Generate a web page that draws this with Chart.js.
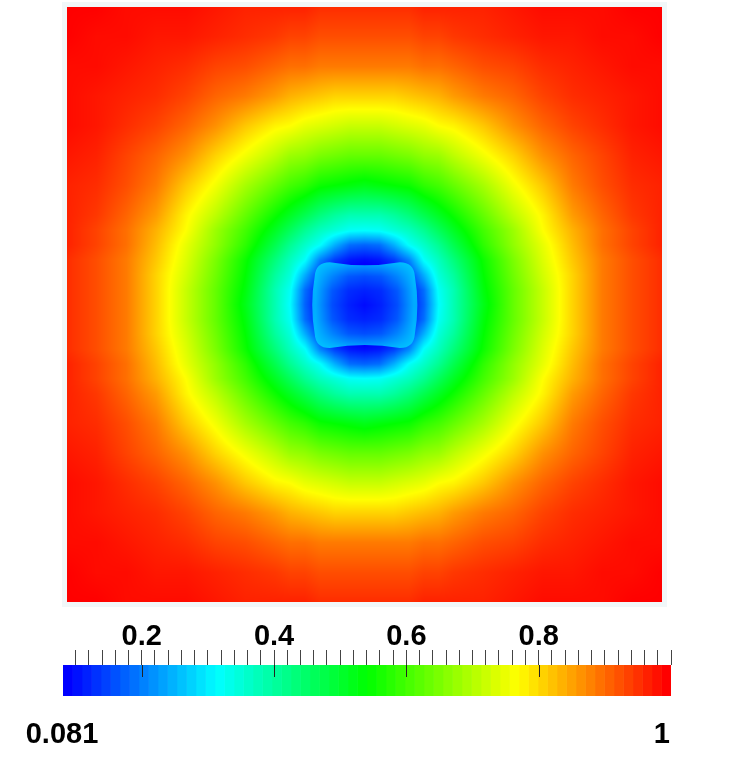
<!DOCTYPE html>
<html>
<head>
<meta charset="utf-8">
<script src="https://cdn.jsdelivr.net/npm/chart.js@4.4.1/dist/chart.umd.min.js"></script>
<style>
  html, body { margin: 0; padding: 0; background: #fff; }
  #wrap { position: relative; width: 740px; height: 778px; }
  #field { position: absolute; left: 0; top: 0; }
  #bar { position: absolute; left: 0; top: 610px; }
</style>
</head>
<body>
<div id="wrap">
  <canvas id="field" width="740" height="610"></canvas>
  <canvas id="bar" width="740" height="168"></canvas>
</div>
<script>
// sampled nodes of the field, domain 0..1 (y counted from the top edge)
const gridX = [0, 0.05, 0.1, 0.15, 0.2, 0.25, 0.3, 0.35, 0.375, 0.4, 0.425, 0.45, 0.475, 0.5,
  0.525, 0.55, 0.575, 0.6, 0.625, 0.65, 0.7, 0.75, 0.8, 0.85, 0.9, 0.95, 1];
const gridY = [0, 0.05, 0.1, 0.15, 0.2, 0.25, 0.3, 0.35, 0.375, 0.4, 0.425, 0.45, 0.475, 0.5,
  0.525, 0.55, 0.575, 0.6, 0.625, 0.65, 0.7, 0.75, 0.8, 0.85, 0.9, 0.95, 1];

// one row per gridY node, one value per gridX node
const field = [
  [1.00,1.00,0.99,0.99,0.99,0.98,0.97,0.97,0.97,0.97,0.96,0.96,0.96,0.96,0.96,0.96,0.96,0.97,0.97,0.97,0.97,0.98,0.99,0.99,0.99,1.00,1.00],
  [1.00,0.99,0.99,0.98,0.98,0.97,0.96,0.95,0.94,0.94,0.93,0.93,0.93,0.93,0.93,0.93,0.93,0.94,0.94,0.95,0.96,0.97,0.98,0.98,0.99,0.99,1.00],
  [0.99,0.99,0.98,0.97,0.96,0.94,0.93,0.91,0.90,0.90,0.89,0.89,0.89,0.89,0.89,0.89,0.89,0.90,0.90,0.91,0.93,0.94,0.96,0.97,0.98,0.99,0.99],
  [0.99,0.98,0.97,0.96,0.94,0.91,0.89,0.86,0.84,0.83,0.82,0.81,0.81,0.81,0.81,0.81,0.82,0.83,0.84,0.86,0.89,0.91,0.94,0.96,0.97,0.98,0.99],
  [0.99,0.98,0.96,0.94,0.91,0.87,0.82,0.78,0.77,0.75,0.74,0.73,0.72,0.72,0.72,0.73,0.74,0.75,0.77,0.78,0.82,0.87,0.91,0.94,0.96,0.98,0.99],
  [0.98,0.97,0.94,0.91,0.87,0.81,0.76,0.71,0.68,0.67,0.65,0.64,0.63,0.63,0.63,0.64,0.65,0.67,0.68,0.71,0.76,0.81,0.87,0.91,0.94,0.97,0.98],
  [0.97,0.96,0.93,0.89,0.82,0.76,0.69,0.63,0.60,0.58,0.55,0.54,0.53,0.52,0.53,0.54,0.55,0.58,0.60,0.63,0.69,0.76,0.82,0.89,0.93,0.96,0.97],
  [0.97,0.95,0.91,0.86,0.78,0.71,0.63,0.55,0.51,0.47,0.43,0.40,0.38,0.38,0.38,0.40,0.43,0.47,0.51,0.55,0.63,0.71,0.78,0.86,0.91,0.95,0.97],
  [0.97,0.94,0.90,0.84,0.77,0.68,0.60,0.51,0.46,0.41,0.37,0.345,0.32,0.315,0.32,0.345,0.37,0.41,0.46,0.51,0.60,0.68,0.77,0.84,0.90,0.94,0.97],
  [0.97,0.94,0.90,0.83,0.75,0.67,0.58,0.47,0.41,0.36,0.315,0.24,0.18,0.17,0.18,0.24,0.315,0.36,0.41,0.47,0.58,0.67,0.75,0.83,0.90,0.94,0.97],
  [0.96,0.93,0.89,0.82,0.74,0.65,0.55,0.43,0.37,0.315,0.20,0.135,0.10,0.09,0.10,0.135,0.20,0.315,0.37,0.43,0.55,0.65,0.74,0.82,0.89,0.93,0.96],
  [0.96,0.93,0.89,0.81,0.73,0.64,0.54,0.40,0.345,0.24,0.135,0.08,0.06,0.05,0.06,0.08,0.135,0.24,0.345,0.40,0.54,0.64,0.73,0.81,0.89,0.93,0.96],
  [0.96,0.93,0.89,0.81,0.72,0.63,0.53,0.38,0.32,0.18,0.10,0.06,0.05,0.05,0.05,0.06,0.10,0.18,0.32,0.38,0.53,0.63,0.72,0.81,0.89,0.93,0.96],
  [0.96,0.93,0.89,0.81,0.72,0.63,0.52,0.38,0.31,0.17,0.09,0.05,0.05,0.05,0.05,0.05,0.09,0.17,0.31,0.38,0.52,0.63,0.72,0.81,0.89,0.93,0.96],
  [0.96,0.93,0.89,0.81,0.72,0.63,0.53,0.38,0.32,0.18,0.10,0.06,0.05,0.05,0.05,0.06,0.10,0.18,0.32,0.38,0.53,0.63,0.72,0.81,0.89,0.93,0.96],
  [0.96,0.93,0.89,0.81,0.73,0.64,0.54,0.40,0.345,0.24,0.135,0.08,0.06,0.05,0.06,0.08,0.135,0.24,0.345,0.40,0.54,0.64,0.73,0.81,0.89,0.93,0.96],
  [0.96,0.93,0.89,0.82,0.74,0.65,0.55,0.43,0.37,0.315,0.20,0.135,0.10,0.09,0.10,0.135,0.20,0.315,0.37,0.43,0.55,0.65,0.74,0.82,0.89,0.93,0.96],
  [0.97,0.94,0.90,0.83,0.75,0.67,0.58,0.47,0.41,0.36,0.315,0.24,0.18,0.17,0.18,0.24,0.315,0.36,0.41,0.47,0.58,0.67,0.75,0.83,0.90,0.94,0.97],
  [0.97,0.94,0.90,0.84,0.77,0.68,0.60,0.51,0.46,0.41,0.37,0.345,0.32,0.315,0.32,0.345,0.37,0.41,0.46,0.51,0.60,0.68,0.77,0.84,0.90,0.94,0.97],
  [0.97,0.95,0.91,0.86,0.78,0.71,0.63,0.55,0.51,0.47,0.43,0.40,0.38,0.38,0.38,0.40,0.43,0.47,0.51,0.55,0.63,0.71,0.78,0.86,0.91,0.95,0.97],
  [0.97,0.96,0.93,0.89,0.82,0.76,0.69,0.63,0.60,0.58,0.55,0.54,0.53,0.52,0.53,0.54,0.55,0.58,0.60,0.63,0.69,0.76,0.82,0.89,0.93,0.96,0.97],
  [0.98,0.97,0.94,0.91,0.87,0.81,0.76,0.71,0.68,0.67,0.65,0.64,0.63,0.63,0.63,0.64,0.65,0.67,0.68,0.71,0.76,0.81,0.87,0.91,0.94,0.97,0.98],
  [0.99,0.98,0.96,0.94,0.91,0.87,0.82,0.78,0.77,0.75,0.74,0.73,0.72,0.72,0.72,0.73,0.74,0.75,0.77,0.78,0.82,0.87,0.91,0.94,0.96,0.98,0.99],
  [0.99,0.98,0.97,0.96,0.94,0.91,0.89,0.86,0.84,0.83,0.82,0.81,0.81,0.81,0.81,0.81,0.82,0.83,0.84,0.86,0.89,0.91,0.94,0.96,0.97,0.98,0.99],
  [0.99,0.99,0.98,0.97,0.96,0.94,0.93,0.91,0.90,0.90,0.89,0.89,0.89,0.89,0.89,0.89,0.89,0.90,0.90,0.91,0.93,0.94,0.96,0.97,0.98,0.99,0.99],
  [1.00,0.99,0.99,0.98,0.98,0.97,0.96,0.95,0.94,0.94,0.93,0.93,0.93,0.93,0.93,0.93,0.93,0.94,0.94,0.95,0.96,0.97,0.98,0.98,0.99,0.99,1.00],
  [1.00,1.00,0.99,0.99,0.99,0.98,0.97,0.97,0.97,0.97,0.96,0.96,0.96,0.96,0.96,0.96,0.96,0.97,0.97,0.97,0.97,0.98,0.99,0.99,0.99,1.00,1.00]
];

// the low blue core in the middle (its own sampled block, edges are the core boundary)
const coreX = [0.418, 0.446, 0.473, 0.500, 0.528, 0.555, 0.583];
const coreY = [0.429, 0.453, 0.477, 0.501, 0.525, 0.549, 0.573];
const coreField = [
  [0.26, 0.25, 0.24, 0.235, 0.24, 0.25, 0.26],
  [0.25, 0.20, 0.16, 0.15, 0.16, 0.20, 0.25],
  [0.24, 0.16, 0.12, 0.11, 0.12, 0.16, 0.24],
  [0.235, 0.15, 0.11, 0.09, 0.11, 0.15, 0.235],
  [0.24, 0.16, 0.12, 0.11, 0.12, 0.16, 0.24],
  [0.25, 0.20, 0.16, 0.15, 0.16, 0.20, 0.25],
  [0.26, 0.25, 0.24, 0.235, 0.24, 0.25, 0.26]
];

const valueMin = 0.081;
const valueMax = 1;
const majorTicks = [0.2, 0.4, 0.6, 0.8];
const majorLabels = ['0.2', '0.4', '0.6', '0.8'];
const endLabels = ['0.081', '1'];
const bandCount = 64;

// rainbow lookup: blue -> cyan -> green -> yellow -> red
const rainbow = [[0, 0, 255], [0, 255, 255], [0, 255, 0], [255, 255, 0], [255, 0, 0]];

function colorFor(v) {
  let t = (v - valueMin) / (valueMax - valueMin);
  t = Math.max(0, Math.min(1, t)) * (rainbow.length - 1);
  const i = Math.min(Math.floor(t), rainbow.length - 2);
  const f = t - i;
  const a = rainbow[i], b = rainbow[i + 1];
  return [a[0] + (b[0] - a[0]) * f, a[1] + (b[1] - a[1]) * f, a[2] + (b[2] - a[2]) * f];
}

function locate(arr, v) {
  let i = 0;
  while (i < arr.length - 2 && v > arr[i + 1]) i++;
  const f = (v - arr[i]) / (arr[i + 1] - arr[i]);
  return [i, Math.max(0, Math.min(1, f))];
}

// shade a block of pixels from nodal values, positions taken from the chart scales
function paint(chart, gx, gy, rows, x0, y0, x1, y1) {
  const xs = chart.scales.x, ys = chart.scales.y;
  const w = x1 - x0, h = y1 - y0;
  const off = document.createElement('canvas');
  off.width = w; off.height = h;
  const octx = off.getContext('2d');
  const img = octx.createImageData(w, h);
  const cols = [];
  for (let px = 0; px < w; px++) cols.push(locate(gx, xs.getValueForPixel(x0 + px + 0.5)));
  for (let py = 0; py < h; py++) {
    const [j, fy] = locate(gy, ys.getValueForPixel(y0 + py + 0.5));
    const r0 = rows[j], r1 = rows[j + 1];
    for (let px = 0; px < w; px++) {
      const [i, fx] = cols[px];
      const top = r0[i] * (1 - fx) + r0[i + 1] * fx;
      const bot = r1[i] * (1 - fx) + r1[i + 1] * fx;
      const c = colorFor(top * (1 - fy) + bot * fy);
      const k = (py * w + px) * 4;
      img.data[k] = c[0]; img.data[k + 1] = c[1]; img.data[k + 2] = c[2]; img.data[k + 3] = 255;
    }
  }
  octx.putImageData(img, 0, 0);
  return off;
}

const fieldPlugin = {
  id: 'fieldPaint',
  beforeDatasetsDraw(chart) {
    const { ctx, chartArea: a, scales: { x, y } } = chart;
    const L = Math.round(a.left), T = Math.round(a.top), R = Math.round(a.right), B = Math.round(a.bottom);
    ctx.save();
    ctx.strokeStyle = '#f1f7f9';
    ctx.lineWidth = 5;
    ctx.strokeRect(L - 2.5, T - 2.5, R - L + 5, B - T + 5);
    ctx.drawImage(paint(chart, gridX, gridY, field, L, T, R, B), L, T);

    // core block, clipped to its rounded outline (top and bottom sag in, sides bow out)
    const cl = x.getPixelForValue(coreX[0]), cr = x.getPixelForValue(coreX[coreX.length - 1]);
    const ct = y.getPixelForValue(coreY[0]), cb = y.getPixelForValue(coreY[coreY.length - 1]);
    const rad = 14, dip = 3, bulge = 3, mx = (cl + cr) / 2, my = (ct + cb) / 2;
    const path = new Path2D();
    path.moveTo(cl + rad, ct);
    path.quadraticCurveTo(mx, ct + dip * 2, cr - rad, ct);
    path.quadraticCurveTo(cr, ct, cr + 1, ct + rad);
    path.quadraticCurveTo(cr + bulge * 2, my, cr + 1, cb - rad);
    path.quadraticCurveTo(cr, cb, cr - rad, cb);
    path.quadraticCurveTo(mx, cb - dip * 2, cl + rad, cb);
    path.quadraticCurveTo(cl, cb, cl - 1, cb - rad);
    path.quadraticCurveTo(cl - bulge * 2, my, cl - 1, ct + rad);
    path.quadraticCurveTo(cl, ct, cl + rad, ct);
    path.closePath();
    ctx.clip(path);
    const bx0 = Math.floor(cl) - 6, bx1 = Math.ceil(cr) + 6, by0 = Math.floor(ct) - 1, by1 = Math.ceil(cb) + 1;
    ctx.drawImage(paint(chart, coreX, coreY, coreField, bx0, by0, bx1, by1), bx0, by0);
    ctx.restore();
  }
};

const nodes = [];
gridY.forEach((gy, j) => gridX.forEach((gx, i) => nodes.push({ x: gx, y: gy, v: field[j][i] })));

new Chart(document.getElementById('field'), {
  type: 'scatter',
  data: { datasets: [{ label: 'field', data: nodes, pointRadius: 0, pointHoverRadius: 0 }] },
  options: {
    responsive: false,
    animation: false,
    devicePixelRatio: 1,
    layout: { padding: { left: 67, right: 78, top: 7, bottom: 8 } },
    plugins: { legend: { display: false }, tooltip: { enabled: false } },
    scales: {
      x: { type: 'linear', min: 0, max: 1, display: false },
      y: { type: 'linear', min: 0, max: 1, reverse: true, display: false }
    }
  },
  plugins: [fieldPlugin]
});

// colour bar
const minorTicks = [];
for (let v = 10; v <= 100; v += 2) minorTicks.push(v / 100);

const bands = [];
for (let k = 0; k < bandCount; k++) {
  const lo = valueMin + (valueMax - valueMin) * k / bandCount;
  const hi = valueMin + (valueMax - valueMin) * (k + 1) / bandCount;
  const c = colorFor(valueMin + (valueMax - valueMin) * k / (bandCount - 1));
  bands.push({ lo, hi, color: `rgb(${Math.round(c[0])},${Math.round(c[1])},${Math.round(c[2])})` });
}

const labelFont = { family: '"Liberation Sans", Arial, sans-serif', size: 29, weight: 'bold' };

const barExtrasPlugin = {
  id: 'barExtras',
  afterDatasetsDraw(chart) {
    const { ctx, chartArea: a, scales: { x } } = chart;
    ctx.save();
    // major ticks reach into the bar
    ctx.strokeStyle = '#222';
    ctx.lineWidth = 1;
    majorTicks.forEach(v => {
      const px = Math.round(x.getPixelForValue(v)) + 0.5;
      ctx.beginPath();
      ctx.moveTo(px, a.top);
      ctx.lineTo(px, a.top + 12);
      ctx.stroke();
    });
    // range labels under the bar
    ctx.fillStyle = '#000';
    ctx.font = `bold ${labelFont.size}px ${labelFont.family}`;
    ctx.textBaseline = 'alphabetic';
    ctx.textAlign = 'center';
    ctx.fillText(endLabels[0], x.getPixelForValue(valueMin) - 1, a.bottom + 47);
    ctx.textAlign = 'right';
    ctx.fillText(endLabels[1], x.getPixelForValue(valueMax) - 1, a.bottom + 47);
    ctx.restore();
  }
};

new Chart(document.getElementById('bar'), {
  type: 'bar',
  data: {
    labels: ['value'],
    datasets: bands.map(b => ({
      data: [[b.lo, b.hi]],
      backgroundColor: b.color,
      borderWidth: 0,
      barPercentage: 1,
      categoryPercentage: 1,
      grouped: false,
      xAxisID: 'x'
    }))
  },
  options: {
    indexAxis: 'y',
    responsive: false,
    animation: false,
    devicePixelRatio: 1,
    layout: { padding: { left: 63, right: 69, top: 14.8, bottom: 12 } },
    plugins: { legend: { display: false }, tooltip: { enabled: false } },
    scales: {
      x: {
        type: 'linear', position: 'top', min: valueMin, max: valueMax,
        afterBuildTicks: s => { s.ticks = minorTicks.map(v => ({ value: v })); },
        grid: { drawOnChartArea: false, tickLength: 15, color: '#444', lineWidth: 1 },
        border: { display: false },
        ticks: {
          autoSkip: false, maxRotation: 0, padding: 1, color: '#000',
          font: { ...labelFont, lineHeight: 0.8 },
          callback: v => {
            const k = majorTicks.findIndex(m => Math.abs(m - v) < 1e-9);
            return k >= 0 ? majorLabels[k] : '';
          }
        }
      },
      // lower axis only reserves the room where the range labels sit
      x2: {
        type: 'linear', position: 'bottom', min: valueMin, max: valueMax,
        grid: { display: false, drawTicks: false },
        border: { display: false },
        ticks: { display: false },
        title: { display: true, text: '', padding: { top: 60, bottom: 0 }, font: { size: 10, lineHeight: 1 } }
      },
      y: { display: false }
    }
  },
  plugins: [barExtrasPlugin]
});
</script>
</body>
</html>
